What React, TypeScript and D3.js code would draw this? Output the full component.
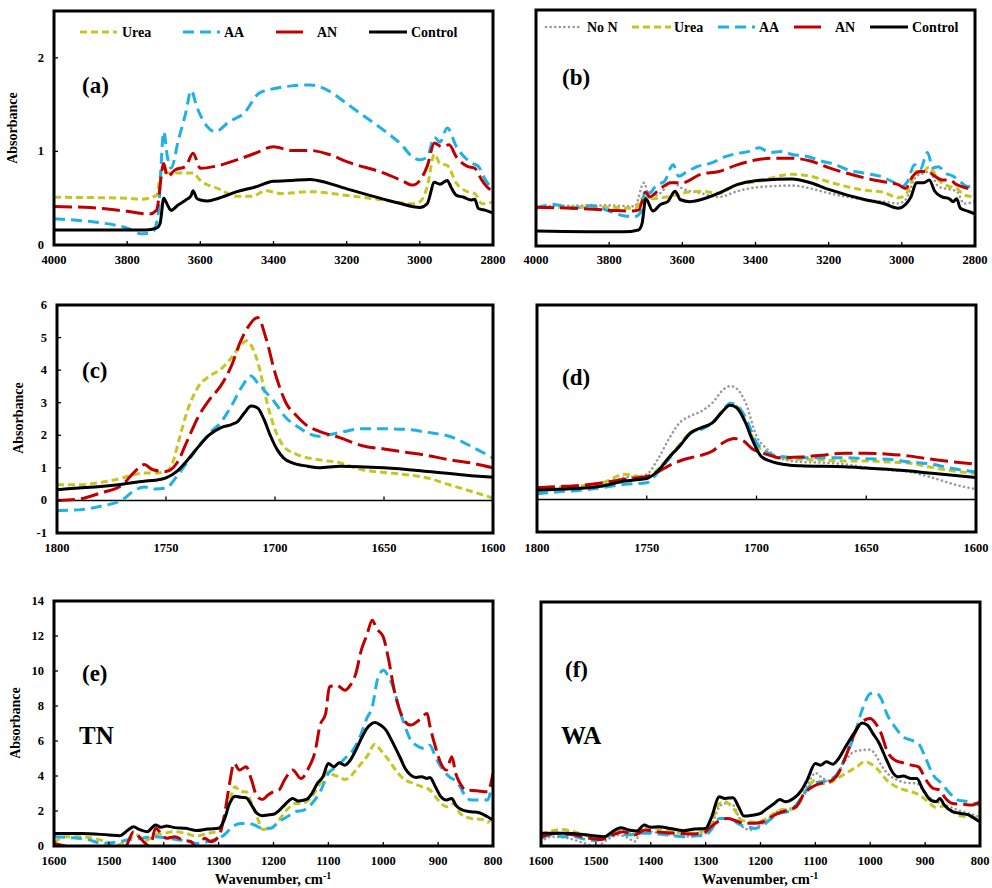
import React from "react";
import * as d3 from "d3";

type Pt = [number, number];

// ---------- Panel (a) : 4000-2800 cm-1, TN ----------
const aUrea: Pt[] = [[4000,0.51],[3800,0.5],[3760,0.49],[3720,0.53],[3705,0.8],[3690,0.77],[3660,0.77],[3620,0.77],[3600,0.69],[3550,0.6],[3500,0.52],[3460,0.52],[3420,0.58],[3380,0.55],[3300,0.57],[3200,0.53],[3100,0.48],[3020,0.44],[3000,0.46],[2980,0.62],[2960,0.97],[2945,0.87],[2925,0.85],[2900,0.66],[2870,0.57],[2850,0.55],[2830,0.44],[2800,0.46]];
const aAA: Pt[] = [[4000,0.28],[3900,0.25],[3800,0.18],[3760,0.12],[3730,0.14],[3715,0.34],[3700,1.21],[3690,0.94],[3680,0.82],[3660,1.12],[3640,1.41],[3625,1.65],[3610,1.48],[3580,1.26],[3560,1.21],[3520,1.32],[3480,1.41],[3440,1.62],[3400,1.67],[3350,1.7],[3300,1.71],[3250,1.65],[3200,1.51],[3150,1.37],[3100,1.23],[3050,1.07],[3020,0.94],[3000,0.91],[2980,0.94],[2960,1.15],[2945,1.1],[2925,1.25],[2900,1.05],[2870,0.91],[2855,0.87],[2840,0.84],[2820,0.69],[2800,0.6]];
const aAN: Pt[] = [[4000,0.41],[3900,0.4],[3800,0.36],[3740,0.33],[3720,0.37],[3700,0.87],[3690,0.73],[3670,0.8],[3640,0.84],[3620,0.98],[3600,0.82],[3560,0.84],[3500,0.91],[3450,0.98],[3400,1.05],[3350,1.01],[3300,1.01],[3250,0.97],[3200,0.89],[3100,0.77],[3050,0.69],[3020,0.64],[3000,0.69],[2980,0.84],[2960,1.09],[2940,1.05],[2920,1.07],[2900,0.94],[2870,0.84],[2850,0.82],[2830,0.69],[2810,0.6],[2800,0.59]];
const aControl: Pt[] = [[4000,0.16],[3750,0.16],[3720,0.18],[3710,0.23],[3700,0.5],[3690,0.43],[3680,0.37],[3660,0.43],[3640,0.48],[3625,0.53],[3620,0.58],[3610,0.5],[3600,0.48],[3580,0.47],[3550,0.5],[3500,0.57],[3450,0.62],[3400,0.68],[3350,0.69],[3300,0.7],[3280,0.69],[3200,0.6],[3100,0.49],[3050,0.44],[3020,0.41],[3000,0.4],[2980,0.44],[2960,0.67],[2945,0.65],[2925,0.69],[2915,0.62],[2900,0.53],[2880,0.51],[2860,0.48],[2850,0.49],[2840,0.39],[2820,0.37],[2800,0.34]];

// ---------- Panel (b) : 4000-2800 cm-1, WA ----------
const bNoN: Pt[] = [[4000,0.42],[3800,0.43],[3730,0.42],[3705,0.67],[3690,0.52],[3660,0.56],[3630,0.68],[3600,0.61],[3550,0.56],[3500,0.52],[3450,0.58],[3400,0.62],[3300,0.64],[3250,0.61],[3200,0.56],[3100,0.49],[3050,0.47],[3010,0.45],[2990,0.49],[2960,0.74],[2940,0.77],[2925,0.79],[2900,0.63],[2870,0.6],[2850,0.58],[2830,0.45],[2800,0.47]];
const bUrea: Pt[] = [[4000,0.41],[3800,0.41],[3730,0.4],[3705,0.52],[3690,0.5],[3660,0.51],[3620,0.54],[3600,0.56],[3550,0.58],[3500,0.56],[3450,0.65],[3400,0.68],[3300,0.76],[3250,0.74],[3200,0.68],[3100,0.59],[3050,0.57],[3010,0.51],[2990,0.54],[2960,0.79],[2945,0.77],[2925,0.84],[2900,0.7],[2870,0.63],[2850,0.61],[2830,0.54],[2800,0.52]];
const bAA: Pt[] = [[4000,0.4],[3950,0.44],[3900,0.4],[3850,0.43],[3800,0.37],[3760,0.32],[3730,0.31],[3715,0.35],[3700,0.6],[3690,0.56],[3670,0.65],[3650,0.68],[3625,0.86],[3610,0.74],[3590,0.78],[3560,0.84],[3520,0.88],[3480,0.95],[3450,0.98],[3420,1.0],[3390,1.04],[3360,0.99],[3330,1.0],[3300,0.97],[3260,0.95],[3220,0.9],[3180,0.86],[3150,0.81],[3100,0.77],[3060,0.74],[3020,0.67],[3000,0.63],[2985,0.68],[2965,0.86],[2950,0.81],[2930,0.99],[2915,0.83],[2900,0.84],[2880,0.77],[2860,0.74],[2840,0.68],[2820,0.63],[2800,0.63]];
const bAN: Pt[] = [[4000,0.41],[3900,0.4],[3800,0.38],[3740,0.37],[3720,0.38],[3700,0.57],[3690,0.52],[3660,0.61],[3630,0.67],[3600,0.67],[3550,0.76],[3500,0.79],[3450,0.86],[3400,0.91],[3350,0.93],[3300,0.93],[3250,0.9],[3200,0.83],[3150,0.77],[3100,0.72],[3050,0.68],[3010,0.65],[2990,0.61],[2970,0.74],[2950,0.79],[2930,0.79],[2910,0.74],[2890,0.7],[2870,0.7],[2850,0.65],[2820,0.61],[2800,0.59]];
const bControl: Pt[] = [[4000,0.16],[3760,0.15],[3720,0.17],[3710,0.24],[3700,0.5],[3680,0.37],[3660,0.44],[3640,0.47],[3620,0.58],[3605,0.49],[3580,0.47],[3550,0.49],[3500,0.56],[3450,0.65],[3400,0.69],[3300,0.71],[3250,0.67],[3200,0.6],[3100,0.49],[3050,0.45],[3010,0.4],[2990,0.44],[2975,0.52],[2960,0.67],[2940,0.67],[2925,0.7],[2910,0.58],[2890,0.52],[2870,0.5],[2860,0.47],[2850,0.5],[2840,0.4],[2820,0.37],[2800,0.34]];

// ---------- Panel (c) : 1800-1600 cm-1, TN ----------
const cUrea: Pt[] = [[1800,0.48],[1790,0.48],[1780,0.55],[1770,0.69],[1765,0.79],[1760,0.84],[1755,0.84],[1750,0.89],[1747,1.15],[1744,1.87],[1740,2.79],[1735,3.51],[1730,3.82],[1725,4.02],[1720,4.38],[1716,4.74],[1713,4.9],[1710,4.64],[1707,4.02],[1704,3.1],[1700,2.18],[1696,1.66],[1690,1.41],[1680,1.25],[1670,1.15],[1660,0.94],[1650,0.86],[1640,0.79],[1630,0.69],[1620,0.48],[1610,0.28],[1600,0.07]];
const cAA: Pt[] = [[1800,-0.31],[1790,-0.29],[1780,-0.18],[1770,0.02],[1765,0.28],[1760,0.41],[1755,0.35],[1750,0.38],[1745,0.74],[1740,1.2],[1735,1.66],[1730,2.07],[1725,2.38],[1720,2.9],[1715,3.51],[1711,3.82],[1708,3.61],[1704,3.31],[1700,3.0],[1695,2.54],[1690,2.28],[1685,2.07],[1680,1.97],[1670,2.09],[1660,2.2],[1650,2.2],[1640,2.18],[1630,2.09],[1620,1.97],[1610,1.66],[1600,1.3]];
const cAN: Pt[] = [[1800,0.0],[1790,0.04],[1780,0.23],[1770,0.48],[1765,0.84],[1760,1.1],[1756,0.94],[1750,0.89],[1745,1.15],[1740,1.87],[1735,2.59],[1730,3.1],[1725,3.51],[1720,4.13],[1716,4.85],[1712,5.36],[1708,5.62],[1704,4.95],[1700,3.92],[1695,3.0],[1690,2.59],[1685,2.28],[1680,2.13],[1670,1.92],[1660,1.68],[1650,1.58],[1640,1.48],[1630,1.38],[1620,1.25],[1610,1.15],[1600,1.0]];
const cControl: Pt[] = [[1800,0.33],[1790,0.38],[1780,0.43],[1770,0.5],[1760,0.59],[1755,0.62],[1750,0.69],[1745,0.89],[1740,1.25],[1735,1.66],[1730,2.02],[1725,2.23],[1720,2.33],[1717,2.43],[1714,2.69],[1711,2.9],[1708,2.84],[1705,2.48],[1702,1.97],[1699,1.56],[1696,1.3],[1692,1.15],[1685,1.05],[1680,1.0],[1670,1.05],[1650,1.0],[1630,0.89],[1610,0.76],[1600,0.71]];

// ---------- Panel (d) : 1800-1600 cm-1, WA ----------
const dNoN: Pt[] = [[1800,0.32],[1780,0.37],[1770,0.47],[1760,0.68],[1755,0.71],[1750,0.78],[1745,1.24],[1740,1.86],[1735,2.37],[1730,2.58],[1725,2.73],[1720,2.99],[1715,3.4],[1712,3.5],[1709,3.42],[1705,2.99],[1700,1.96],[1695,1.55],[1690,1.29],[1680,1.16],[1670,1.14],[1660,1.09],[1650,0.99],[1640,0.91],[1630,0.85],[1620,0.68],[1610,0.47],[1600,0.32]];
const dUrea: Pt[] = [[1800,0.37],[1780,0.42],[1770,0.52],[1760,0.78],[1755,0.73],[1750,0.68],[1745,0.93],[1740,1.29],[1735,1.7],[1730,2.06],[1725,2.19],[1720,2.37],[1716,2.68],[1712,2.94],[1709,2.88],[1705,2.42],[1700,1.7],[1695,1.4],[1690,1.29],[1680,1.24],[1670,1.22],[1660,1.19],[1650,1.19],[1640,1.16],[1630,1.12],[1620,0.99],[1610,0.88],[1600,0.8]];
const dAA: Pt[] = [[1800,0.18],[1790,0.24],[1780,0.29],[1770,0.37],[1760,0.47],[1750,0.52],[1745,0.83],[1740,1.24],[1735,1.65],[1730,2.04],[1725,2.17],[1720,2.37],[1716,2.68],[1712,2.97],[1709,2.91],[1705,2.53],[1700,1.76],[1695,1.45],[1690,1.34],[1680,1.29],[1670,1.29],[1660,1.29],[1650,1.26],[1640,1.24],[1630,1.16],[1620,1.09],[1610,0.95],[1600,0.85]];
const dAN: Pt[] = [[1800,0.37],[1790,0.4],[1780,0.44],[1770,0.52],[1760,0.63],[1750,0.71],[1745,0.85],[1740,1.04],[1735,1.19],[1730,1.29],[1725,1.37],[1720,1.5],[1715,1.76],[1710,1.88],[1706,1.81],[1702,1.57],[1698,1.45],[1694,1.37],[1690,1.29],[1680,1.31],[1670,1.37],[1660,1.43],[1650,1.43],[1640,1.4],[1630,1.34],[1620,1.24],[1610,1.16],[1600,1.09]];
const dControl: Pt[] = [[1800,0.29],[1790,0.32],[1780,0.35],[1770,0.42],[1760,0.57],[1755,0.61],[1750,0.65],[1745,0.88],[1740,1.29],[1735,1.65],[1730,2.06],[1725,2.22],[1720,2.37],[1716,2.68],[1712,2.91],[1709,2.83],[1705,2.37],[1702,1.86],[1698,1.34],[1694,1.19],[1685,1.06],[1680,1.04],[1660,1.01],[1650,0.97],[1630,0.88],[1620,0.81],[1600,0.68]];

// ---------- Panel (e) : 1600-800 cm-1, TN ----------
const eUrea: Pt[] = [[1600,0.19],[1580,0.53],[1550,0.53],[1520,0.38],[1500,0.19],[1485,0.04],[1470,0.25],[1450,0.63],[1435,0.3],[1415,0.63],[1400,0.72],[1380,0.82],[1360,0.72],[1340,0.57],[1320,0.72],[1300,0.88],[1290,1.48],[1280,2.53],[1270,3.39],[1260,3.1],[1250,3.1],[1240,2.43],[1230,1.67],[1220,0.95],[1205,1.01],[1190,1.48],[1175,2.09],[1160,2.43],[1150,2.43],[1130,2.82],[1115,3.58],[1100,4.24],[1090,4.05],[1080,3.96],[1070,3.8],[1060,3.96],[1050,4.34],[1040,4.72],[1030,5.1],[1015,5.82],[1005,5.48],[990,4.91],[975,4.24],[960,3.77],[945,3.58],[930,3.39],[915,3.2],[900,2.63],[885,2.24],[870,2.43],[860,1.86],[840,1.58],[820,1.52],[810,1.35],[800,1.77]];
const eAA: Pt[] = [[1600,0.53],[1570,0.48],[1540,0.38],[1510,0.15],[1480,0.25],[1460,0.38],[1440,0.44],[1420,0.53],[1400,0.48],[1380,0.38],[1360,0.3],[1340,0.15],[1320,0.25],[1300,0.44],[1290,0.63],[1275,1.1],[1260,1.29],[1245,1.29],[1235,1.2],[1220,1.01],[1205,1.01],[1190,1.39],[1175,1.67],[1160,1.96],[1145,2.05],[1130,2.43],[1115,3.1],[1100,4.15],[1085,4.53],[1070,5.0],[1055,5.48],[1040,6.43],[1030,7.29],[1020,7.95],[1010,9.57],[1000,10.04],[990,9.66],[980,8.9],[970,7.76],[960,6.81],[950,6.05],[940,5.76],[925,5.57],[915,5.76],[905,5.1],[895,4.53],[880,3.96],[870,3.77],[860,3.39],[850,2.82],[840,2.63],[820,2.63],[810,2.63],[800,3.96]];
const eAN: Pt[] = [[1600,0.15],[1580,0.0],[1560,-0.2],[1500,-0.2],[1470,-0.04],[1455,0.82],[1445,0.53],[1435,0.19],[1425,-0.04],[1415,1.01],[1405,0.72],[1395,0.44],[1380,0.53],[1365,0.34],[1350,0.25],[1340,-0.13],[1325,0.44],[1315,0.25],[1300,0.53],[1290,1.67],[1280,3.58],[1272,4.72],[1262,4.34],[1250,4.53],[1240,3.77],[1230,2.82],[1220,2.66],[1210,2.91],[1200,3.1],[1190,3.2],[1180,3.77],[1165,4.34],[1150,3.86],[1135,4.53],[1125,5.29],[1115,6.91],[1105,7.57],[1098,9.09],[1085,9.19],[1070,8.9],[1060,9.19],[1050,9.85],[1040,11.19],[1030,12.04],[1020,12.9],[1012,12.42],[1000,11.95],[990,10.61],[980,8.9],[970,7.76],[960,7.1],[950,6.91],[935,7.19],[920,7.57],[915,6.86],[905,5.67],[895,4.72],[885,4.34],[875,5.1],[868,4.15],[860,3.58],[850,3.2],[830,3.16],[810,3.1],[800,4.15]];
const eControl: Pt[] = [[1600,0.72],[1550,0.72],[1500,0.63],[1480,0.59],[1465,0.91],[1455,1.1],[1445,0.95],[1430,0.82],[1415,1.2],[1405,1.07],[1395,1.14],[1380,1.05],[1360,1.01],[1340,0.88],[1320,0.97],[1300,1.01],[1290,1.48],[1280,2.43],[1270,2.85],[1260,2.78],[1250,2.76],[1240,2.34],[1230,1.86],[1220,1.73],[1210,1.77],[1200,1.81],[1190,2.02],[1180,2.34],[1165,2.72],[1155,2.57],[1140,2.66],[1130,3.01],[1120,3.58],[1110,3.96],[1100,4.72],[1090,4.53],[1080,4.76],[1070,4.62],[1060,4.91],[1050,5.48],[1040,6.14],[1030,6.71],[1015,7.06],[1005,6.91],[995,6.62],[985,6.05],[970,5.1],[960,4.43],[950,4.05],[940,3.92],[930,3.96],[920,3.86],[915,3.92],[905,3.39],[895,2.82],[885,2.63],[875,2.72],[868,2.34],[855,2.05],[840,1.96],[825,1.9],[810,1.67],[800,1.48]];

// ---------- Panel (f) : 1600-800 cm-1, WA ----------
const fNoN: Pt[] = [[1600,0.25],[1580,0.53],[1550,0.44],[1520,0.15],[1500,-0.04],[1480,0.34],[1460,0.63],[1440,0.44],[1430,0.25],[1415,0.92],[1400,0.82],[1380,0.73],[1360,0.63],[1340,0.53],[1320,0.63],[1300,0.73],[1290,1.11],[1275,2.25],[1265,2.44],[1250,2.35],[1240,1.68],[1230,1.01],[1215,0.92],[1200,1.2],[1185,1.58],[1170,1.97],[1155,2.06],[1140,2.25],[1125,2.82],[1110,3.78],[1100,4.2],[1090,3.97],[1075,3.74],[1060,4.16],[1045,4.92],[1030,5.4],[1015,5.5],[1000,5.53],[990,5.21],[980,4.64],[965,4.06],[950,3.78],[935,3.63],[915,3.59],[900,3.02],[885,2.63],[870,2.44],[855,2.25],[840,2.06],[820,1.87],[800,1.68]];
const fUrea: Pt[] = [[1600,0.63],[1580,0.88],[1560,0.95],[1540,0.82],[1520,0.63],[1500,0.44],[1480,0.53],[1460,0.92],[1440,0.73],[1420,0.82],[1405,1.11],[1390,1.01],[1370,0.92],[1350,0.76],[1330,0.73],[1310,0.82],[1300,0.88],[1290,1.3],[1275,2.44],[1265,2.54],[1255,2.35],[1245,1.97],[1235,1.49],[1220,1.39],[1205,1.34],[1190,1.58],[1175,1.87],[1160,2.1],[1145,2.1],[1130,2.44],[1115,3.3],[1100,3.78],[1085,3.59],[1070,3.68],[1055,3.97],[1040,4.26],[1025,4.54],[1010,4.83],[1000,4.73],[985,4.35],[970,3.78],[955,3.44],[940,3.24],[925,3.11],[910,2.92],[895,2.54],[880,2.21],[865,2.29],[850,1.97],[835,1.72],[820,1.68],[810,1.64],[800,1.97]];
const fAA: Pt[] = [[1600,0.44],[1580,0.63],[1560,0.53],[1540,0.53],[1520,0.38],[1500,0.31],[1480,0.53],[1460,0.73],[1440,0.63],[1420,0.73],[1400,0.73],[1380,0.67],[1360,0.59],[1340,0.53],[1320,0.57],[1300,0.63],[1290,0.92],[1275,1.58],[1260,1.58],[1250,1.49],[1240,1.26],[1225,1.11],[1210,1.01],[1195,1.2],[1180,1.58],[1165,1.87],[1150,1.97],[1135,2.35],[1120,3.02],[1105,3.59],[1090,3.68],[1075,3.78],[1060,4.16],[1045,5.11],[1030,6.26],[1015,7.79],[1000,8.74],[990,8.78],[980,8.45],[970,7.6],[955,6.83],[940,6.26],[925,6.07],[912,5.88],[900,5.11],[885,4.06],[870,3.59],[855,3.02],[840,2.63],[820,2.54],[800,2.35]];
const fAN: Pt[] = [[1600,0.53],[1570,0.73],[1540,0.63],[1510,0.44],[1490,0.38],[1470,0.63],[1450,0.82],[1430,0.63],[1410,0.92],[1390,0.82],[1370,0.76],[1350,0.73],[1330,0.69],[1310,0.73],[1300,0.82],[1290,1.11],[1275,1.45],[1260,1.58],[1245,1.45],[1230,1.3],[1210,1.3],[1195,1.39],[1180,1.68],[1165,1.91],[1150,2.06],[1135,2.25],[1120,3.02],[1105,3.4],[1090,3.59],[1075,3.68],[1060,4.06],[1045,5.11],[1030,6.35],[1015,7.12],[1000,7.31],[990,7.02],[980,6.45],[970,5.5],[955,4.92],[940,4.77],[925,4.64],[912,4.54],[900,3.87],[885,3.3],[873,3.21],[865,2.82],[850,2.44],[830,2.39],[815,2.35],[800,2.54]];
const fControl: Pt[] = [[1600,0.73],[1550,0.73],[1500,0.57],[1485,0.53],[1470,0.82],[1455,1.05],[1440,0.92],[1425,0.86],[1412,1.2],[1400,1.07],[1385,1.11],[1365,1.01],[1340,0.88],[1320,0.97],[1300,1.01],[1290,1.58],[1275,2.82],[1265,2.73],[1250,2.77],[1240,2.25],[1230,1.72],[1215,1.77],[1200,1.87],[1190,2.1],[1175,2.44],[1165,2.67],[1155,2.54],[1140,2.73],[1125,3.21],[1115,3.78],[1100,4.73],[1090,4.64],[1080,4.83],[1068,4.69],[1060,4.92],[1045,5.69],[1030,6.45],[1015,7.06],[1005,6.93],[995,6.45],[985,5.97],[970,4.92],[960,4.26],[950,3.97],[940,4.01],[925,3.87],[915,3.87],[905,3.3],[890,2.63],[880,2.54],[873,2.73],[865,2.35],[850,1.97],[835,1.87],[820,1.77],[810,1.58],[800,1.39]];

// ---------- axis ticks & labels ----------
const ticksHigh = [4000, 3800, 3600, 3400, 3200, 3000, 2800];
const ticksMid = [1800, 1750, 1700, 1650, 1600];
const ticksLow = [1600, 1500, 1400, 1300, 1200, 1100, 1000, 900, 800];
const yTicksA = [0, 1, 2];
const yTicksC = [-1, 0, 1, 2, 3, 4, 5, 6];
const yTicksE = [0, 2, 4, 6, 8, 10, 12, 14];
const legendA = ["Urea", "AA", "AN", "Control"];
const legendB = ["No N", "Urea", "AA", "AN", "Control"];

const STYLE: Record<string, { color: string; dash: string; legendDash: string; width: number; cap: string }> = {
  "No N": { color: "#9a9a9a", dash: "0.1,4.5", legendDash: "0.1,4.5", width: 2.6, cap: "round" },
  Urea: { color: "#c6c622", dash: "7,4", legendDash: "7,4", width: 3, cap: "butt" },
  AA: { color: "#1fb1e6", dash: "11,6", legendDash: "11,6", width: 3, cap: "butt" },
  AN: { color: "#c00000", dash: "18,6", legendDash: "", width: 3, cap: "butt" },
  Control: { color: "#000000", dash: "", legendDash: "", width: 3, cap: "butt" },
};

const FONT = "'Liberation Serif', 'Times New Roman', serif";

type Series = { name: string; data: Pt[] };
type PanelProps = {
  id: string;
  box: [number, number, number, number];
  xDomain: [number, number];
  yDomain: [number, number];
  xTicks: number[];
  yTicks: number[];
  showY: boolean;
  zeroLine?: boolean;
  series: Series[];
  label: string;
  labelPos: [number, number];
  sub?: string;
  subPos?: [number, number];
  legend?: string[];
  legendPos?: { y: number; items: [number, number, number][] };
  ylabPos?: [number, number];
  xTitle?: [number, number];
  tickLabelDy: number;
};

function Panel(p: PanelProps) {
  const [x0, x1, y0, y1] = p.box;
  const x = d3.scaleLinear().domain(p.xDomain).range([x0, x1]);
  const y = d3.scaleLinear().domain(p.yDomain).range([y1, y0]);
  const line = d3
    .line<Pt>()
    .x((d) => x(d[0]))
    .y((d) => y(d[1]))
    .curve(d3.curveMonotoneX);
  const axisY = p.zeroLine ? y(0) : y1;
  return (
    <g>
      <defs>
        <clipPath id={"clip-" + p.id}>
          <rect x={x0} y={y0} width={x1 - x0} height={y1 - y0} />
        </clipPath>
      </defs>
      <g clipPath={`url(#clip-${p.id})`}>
        {p.zeroLine && <line x1={x0} x2={x1} y1={y(0)} y2={y(0)} stroke="#000" strokeWidth={1.6} />}
        {p.series.map((s) => {
          const st = STYLE[s.name];
          return (
            <path
              key={s.name}
              d={line(s.data) || ""}
              fill="none"
              stroke={st.color}
              strokeWidth={st.width}
              strokeDasharray={st.dash || undefined}
              strokeLinecap={st.cap as any}
              strokeLinejoin="round"
            />
          );
        })}
      </g>
      {p.xTicks.map((t) => (
        <g key={"xt" + t}>
          <line x1={x(t)} x2={x(t)} y1={axisY} y2={axisY - 4} stroke="#000" strokeWidth={1.3} />
          <text x={x(t)} y={y1 + p.tickLabelDy} textAnchor="middle" fontSize={12.5} fontWeight="bold" fontFamily={FONT}>
            {t}
          </text>
        </g>
      ))}
      {p.showY &&
        p.yTicks.map((t) => (
          <g key={"yt" + t}>
            <line x1={x0} x2={x0 + 4} y1={y(t)} y2={y(t)} stroke="#000" strokeWidth={1.3} />
            <text x={x0 - 10} y={y(t) + 4} textAnchor="end" fontSize={12.5} fontWeight="bold" fontFamily={FONT}>
              {t}
            </text>
          </g>
        ))}
      <rect x={x0} y={y0} width={x1 - x0} height={y1 - y0} fill="none" stroke="#000" strokeWidth={3} />
      {p.ylabPos && (
        <text
          transform={`translate(${p.ylabPos[0]},${p.ylabPos[1]}) rotate(-90)`}
          textAnchor="middle"
          fontSize={14}
          fontWeight="bold"
          fontFamily={FONT}
        >
          Absorbance
        </text>
      )}
      <text x={p.labelPos[0]} y={p.labelPos[1]} fontSize={23} fontWeight="bold" fontFamily={FONT}>
        {p.label}
      </text>
      {p.sub && p.subPos && (
        <text x={p.subPos[0]} y={p.subPos[1]} fontSize={25} fontWeight="bold" fontFamily={FONT}>
          {p.sub}
        </text>
      )}
      {p.legend &&
        p.legendPos &&
        p.legend.map((name, i) => {
          const st = STYLE[name];
          const [lx0, lx1, tx] = p.legendPos!.items[i];
          const ly = p.legendPos!.y;
          return (
            <g key={"lg" + name}>
              <line
                x1={lx0}
                x2={lx1}
                y1={ly}
                y2={ly}
                stroke={st.color}
                strokeWidth={st.width}
                strokeDasharray={st.legendDash || undefined}
                strokeLinecap={st.cap as any}
              />
              <text x={tx} y={ly + 5} fontSize={14} fontWeight="bold" fontFamily={FONT}>
                {name}
              </text>
            </g>
          );
        })}
      {p.xTitle && (
        <text x={p.xTitle[0]} y={p.xTitle[1]} textAnchor="middle" fontSize={14.5} fontWeight="bold" fontFamily={FONT}>
          Wavenumber, cm<tspan dy={-5} fontSize={10}>-1</tspan>
        </text>
      )}
    </g>
  );
}

export default function App() {
  return (
    <svg width={992} height={888} style={{ display: "block", position: "absolute", left: 0, top: 0, background: "#fff" }}>
      <rect width={992} height={888} fill="#fff" />
      <Panel
        id="a"
        box={[54, 493, 11, 245]}
        xDomain={[4000, 2800]}
        yDomain={[0, 2.5]}
        xTicks={ticksHigh}
        yTicks={yTicksA}
        showY
        series={[
          { name: "Urea", data: aUrea },
          { name: "AA", data: aAA },
          { name: "AN", data: aAN },
          { name: "Control", data: aControl },
        ]}
        label="(a)"
        labelPos={[82, 93]}
        legend={legendA}
        legendPos={{ y: 32, items: [[80, 117, 122], [183, 220, 224], [276, 303, 317], [369, 407, 411]] }}
        ylabPos={[17, 128]}
        tickLabelDy={19}
      />
      <Panel
        id="b"
        box={[536, 975, 10, 246]}
        xDomain={[4000, 2800]}
        yDomain={[0, 2.5]}
        xTicks={ticksHigh}
        yTicks={yTicksA}
        showY={false}
        series={[
          { name: "No N", data: bNoN },
          { name: "Urea", data: bUrea },
          { name: "AA", data: bAA },
          { name: "AN", data: bAN },
          { name: "Control", data: bControl },
        ]}
        label="(b)"
        labelPos={[562, 85]}
        legend={legendB}
        legendPos={{ y: 27, items: [[546, 581, 587], [632, 671, 674], [718, 755, 759], [794, 821, 835], [870, 908, 912]] }}
        tickLabelDy={18}
      />
      <Panel
        id="c"
        box={[57, 493, 305, 533]}
        xDomain={[1800, 1600]}
        yDomain={[-1, 6]}
        xTicks={ticksMid}
        yTicks={yTicksC}
        showY
        zeroLine
        series={[
          { name: "Urea", data: cUrea },
          { name: "AA", data: cAA },
          { name: "AN", data: cAN },
          { name: "Control", data: cControl },
        ]}
        label="(c)"
        labelPos={[82, 378]}
        ylabPos={[23, 418]}
        tickLabelDy={19}
      />
      <Panel
        id="d"
        box={[537, 976, 305, 532]}
        xDomain={[1800, 1600]}
        yDomain={[-1, 6]}
        xTicks={ticksMid}
        yTicks={yTicksC}
        showY={false}
        zeroLine
        series={[
          { name: "No N", data: dNoN },
          { name: "Urea", data: dUrea },
          { name: "AA", data: dAA },
          { name: "AN", data: dAN },
          { name: "Control", data: dControl },
        ]}
        label="(d)"
        labelPos={[562, 385]}
        tickLabelDy={20}
      />
      <Panel
        id="e"
        box={[54, 493, 601, 846]}
        xDomain={[1600, 800]}
        yDomain={[0, 14]}
        xTicks={ticksLow}
        yTicks={yTicksE}
        showY
        series={[
          { name: "Urea", data: eUrea },
          { name: "AA", data: eAA },
          { name: "AN", data: eAN },
          { name: "Control", data: eControl },
        ]}
        label="(e)"
        labelPos={[82, 681]}
        sub="TN"
        subPos={[79, 744]}
        ylabPos={[20, 723]}
        xTitle={[273, 884]}
        tickLabelDy={19}
      />
      <Panel
        id="f"
        box={[541, 980, 602, 846]}
        xDomain={[1600, 800]}
        yDomain={[0, 14]}
        xTicks={ticksLow}
        yTicks={yTicksE}
        showY={false}
        series={[
          { name: "No N", data: fNoN },
          { name: "Urea", data: fUrea },
          { name: "AA", data: fAA },
          { name: "AN", data: fAN },
          { name: "Control", data: fControl },
        ]}
        label="(f)"
        labelPos={[565, 677]}
        sub="WA"
        subPos={[561, 744]}
        xTitle={[760, 884]}
        tickLabelDy={19}
      />
    </svg>
  );
}
